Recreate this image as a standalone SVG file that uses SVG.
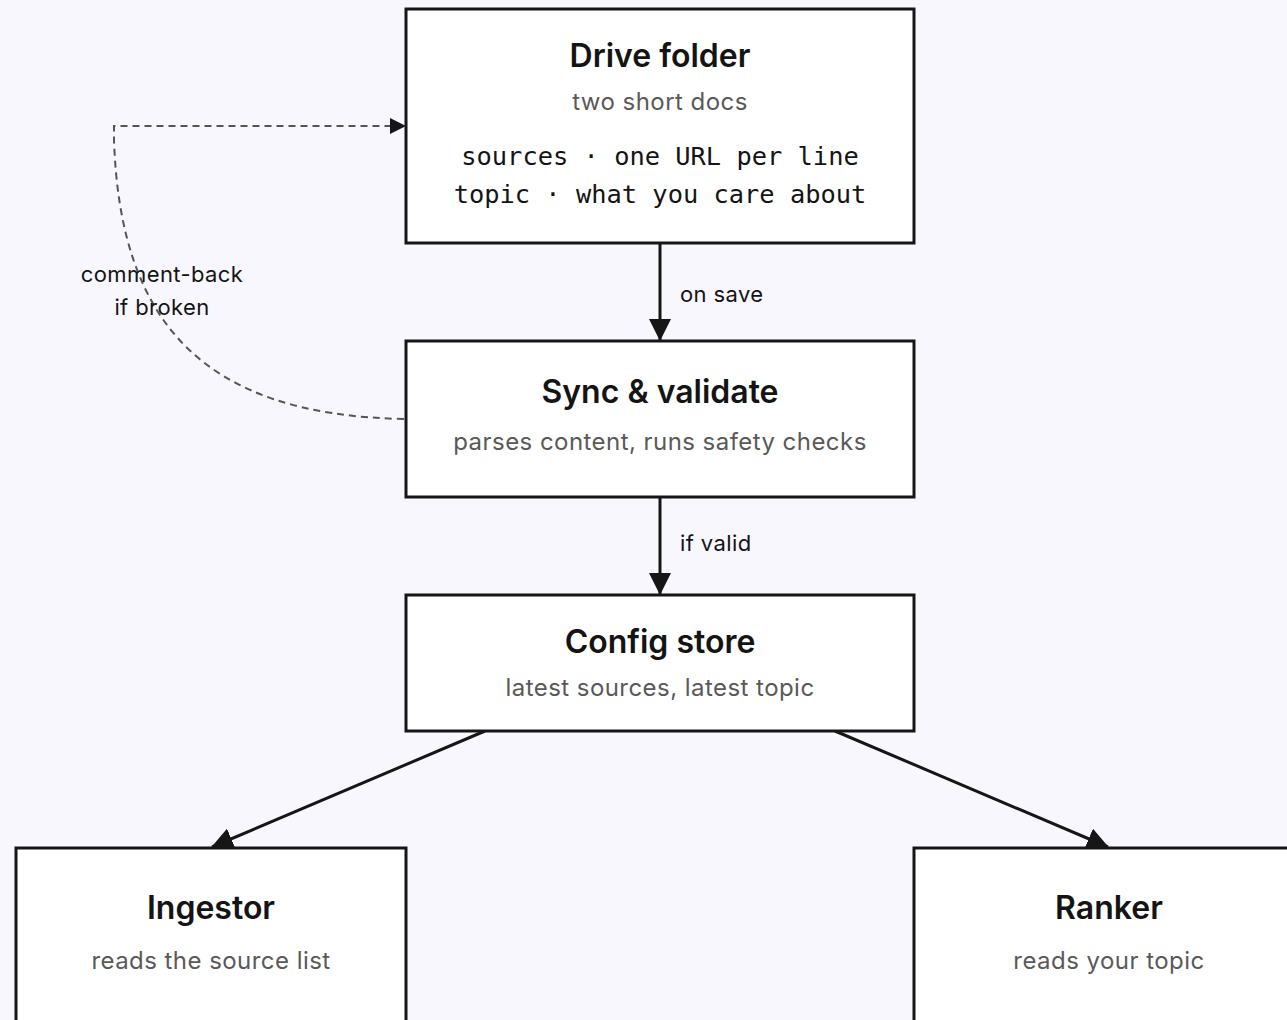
<svg xmlns="http://www.w3.org/2000/svg" width="1287" height="1020" viewBox="0 0 1287 1020">
  <style>
    .box { fill: #ffffff; stroke: #161616; stroke-width: 3; }
    .title { font-family: Inter, "Liberation Sans", sans-serif; font-weight: 600; font-size: 32px; fill: #141414; text-anchor: middle; }
    .sub { font-family: Inter, "Liberation Sans", sans-serif; font-size: 24px; letter-spacing: 0.45px; fill: #595959; text-anchor: middle; }
    .mono { font-family: "DejaVu Sans Mono", "Liberation Mono", monospace; font-size: 25.4px; fill: #141414; text-anchor: middle; }
    .lbl { font-family: Inter, "Liberation Sans", sans-serif; font-size: 22px; letter-spacing: 0.4px; fill: #141414; }
    .edge { fill: none; stroke: #161616; stroke-width: 3; }
    .dash { fill: none; stroke: #555555; stroke-width: 2; stroke-dasharray: 7 5; }
  </style>
  <defs>
    <marker id="head" markerUnits="userSpaceOnUse" viewBox="0 0 22 22" markerWidth="22" markerHeight="22" refX="21" refY="11" orient="auto">
      <path d="M0,0 L22,11 L0,22 z" fill="#161616"/>
    </marker>
    <marker id="headSmall" markerUnits="userSpaceOnUse" viewBox="0 0 16 16" markerWidth="16" markerHeight="16" refX="15" refY="8" orient="auto">
      <path d="M0,0 L16,8 L0,16 z" fill="#161616"/>
    </marker>
  </defs>

  <rect x="0" y="0" width="1287" height="1020" fill="#f8f7fe"/>

  <g id="connectors">
    <line class="edge" x1="660" y1="243" x2="660" y2="340" marker-end="url(#head)"/>
    <line class="edge" x1="660" y1="497" x2="660" y2="594" marker-end="url(#head)"/>
    <line class="edge" x1="485" y1="731" x2="212" y2="847" marker-end="url(#head)"/>
    <line class="edge" x1="835" y1="731" x2="1108" y2="847" marker-end="url(#head)"/>
    <path class="dash" d="M404 419 C200 415 120 320 114 140 L114 126 L405 126" marker-end="url(#headSmall)"/>
    <text class="lbl" x="680" y="302">on save</text>
    <text class="lbl" x="680" y="551">if valid</text>
    <text class="lbl" x="162" y="282" text-anchor="middle">comment-back</text>
    <text class="lbl" x="162" y="315" text-anchor="middle">if broken</text>
  </g>

  <g id="drive-folder">
    <rect class="box" x="406" y="9" width="508" height="234"/>
    <text class="title" x="660" y="67">Drive folder</text>
    <text class="sub" x="660" y="110">two short docs</text>
    <text class="mono" x="660" y="165">sources · one URL per line</text>
    <text class="mono" x="660" y="203">topic · what you care about</text>
  </g>

  <g id="sync-validate">
    <rect class="box" x="406" y="341" width="508" height="156"/>
    <text class="title" x="660" y="403">Sync &amp; validate</text>
    <text class="sub" x="660" y="450">parses content, runs safety checks</text>
  </g>

  <g id="config-store">
    <rect class="box" x="406" y="595" width="508" height="136"/>
    <text class="title" x="660" y="653">Config store</text>
    <text class="sub" x="660" y="696">latest sources, latest topic</text>
  </g>

  <g id="ingestor">
    <rect class="box" x="16" y="848" width="390" height="200"/>
    <text class="title" x="211" y="919">Ingestor</text>
    <text class="sub" x="211" y="969">reads the source list</text>
  </g>

  <g id="ranker">
    <rect class="box" x="914" y="848" width="390" height="200"/>
    <text class="title" x="1109" y="919">Ranker</text>
    <text class="sub" x="1109" y="969">reads your topic</text>
  </g>
</svg>
